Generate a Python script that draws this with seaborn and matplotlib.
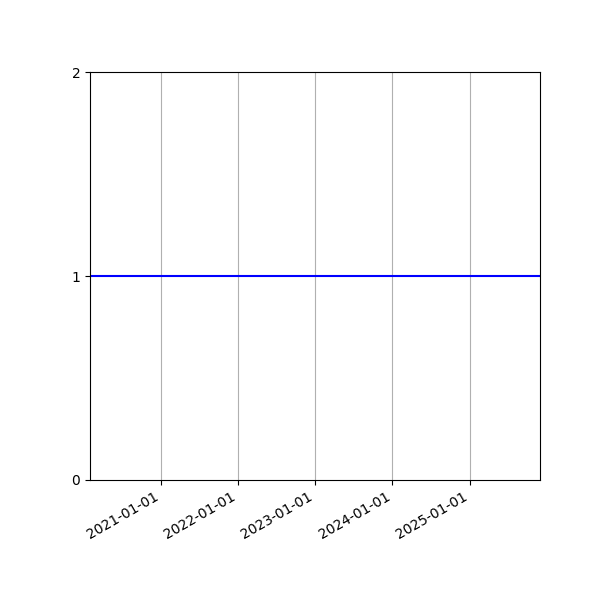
import matplotlib
matplotlib.use("Agg")
import matplotlib.pyplot as plt
import matplotlib.dates as mdates
import pandas as pd
import seaborn as sns

dates = ["2020-01-31", "2025-11-30"]
values = [1, 1]
xticks = ["2021-01-01", "2022-01-01", "2023-01-01", "2024-01-01", "2025-01-01"]
yticks = [0, 1, 2]

df = pd.DataFrame({"date": pd.to_datetime(dates), "value": values})

fig, ax = plt.subplots(figsize=(6, 6), dpi=100)
sns.lineplot(data=df, x="date", y="value", color="blue", linewidth=1.5, ax=ax)
ax.set_xlim(df["date"].min(), df["date"].max())
ax.set_ylim(0, 2)
ax.set_yticks(yticks)
ax.set_xticks(pd.to_datetime(xticks))
ax.xaxis.set_major_formatter(mdates.DateFormatter("%Y-%m-%d"))
ax.set_xlabel("")
ax.set_ylabel("")
ax.grid(True, axis="x")
fig.autofmt_xdate()
fig.subplots_adjust(left=0.15, right=0.9, top=0.88, bottom=0.2)
fig.savefig("out.png", dpi=100)
